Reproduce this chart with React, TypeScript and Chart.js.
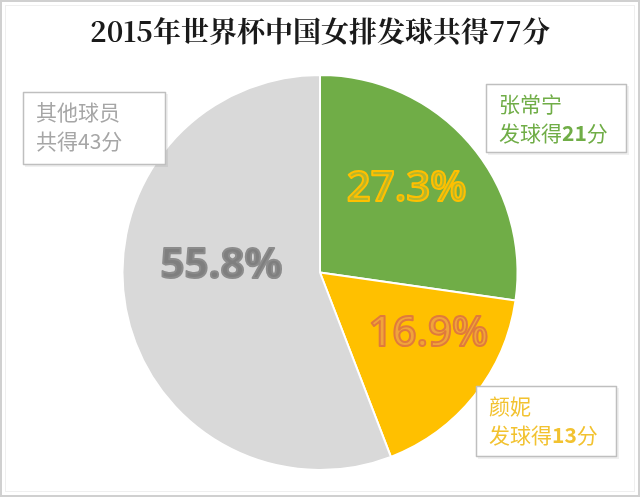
import React, { useEffect, useRef } from "react";
import { Chart, registerables } from "chart.js";

Chart.register(...registerables);

const TITLE = "2015年世界杯中国女排发球共得77分";
const categories = ["张常宁", "颜妮", "其他球员"];
const points = [21, 13, 43];
const percentLabels = ["27.3%", "16.9%", "55.8%"];
const boxLine1 = ["张常宁", "颜妮", "其他球员"];
const boxLine2Prefix = ["发球得", "发球得", "共得"];
const boxLine2Suffix = ["分", "分", "分"];
const sliceColors = ["#70AD47", "#FFC000", "#D9D9D9"];

// label placement (polar, relative to pie centre): angle in degrees, fraction of radius
const pctAngle = [-44, 29.5, 184];
const pctRadius = [0.61, 0.63, 0.5];
const pctFill = ["#B8B62A", "#F0A43A", "#7F7F7F"];
const pctStroke = ["#FFC000", "#E07A3C", "#8C8C8C"];
const pctWeight = ["600", "600", "bold"];
const boxTextColor = ["#70AD47", "#F2C230", "#A6A6A6"];
const boxBold = [true, true, false];
// callout boxes: x, y, w, h
const boxRects = [
  [486, 84, 141, 69],
  [476, 386, 141, 71],
  [23, 92, 143, 73],
];

const CJK = '"Noto Sans CJK SC", "Noto Sans", sans-serif';

const overlayPlugin = {
  id: "overlay",
  beforeDraw(chart: any) {
    const ctx = chart.ctx;
    ctx.save();
    ctx.fillStyle = "#ffffff";
    ctx.fillRect(0, 0, chart.width, chart.height);
    ctx.strokeStyle = "#D0D0D0";
    ctx.lineWidth = 2;
    ctx.strokeRect(1, 1, chart.width - 2, chart.height - 2);
    ctx.strokeStyle = "#EFEFEF";
    ctx.lineWidth = 1;
    ctx.strokeRect(5.5, 5.5, chart.width - 11, chart.height - 11);
    ctx.fillStyle = "#1a1a1a";
    ctx.font = 'bold 28px "Noto Serif CJK SC", "Liberation Serif", "Noto Sans CJK SC", serif';
    ctx.textAlign = "center";
    ctx.textBaseline = "middle";
    ctx.fillText(TITLE, chart.width / 2, 31);
    ctx.restore();
  },
  afterDatasetsDraw(chart: any) {
    const ctx = chart.ctx;
    const meta = chart.getDatasetMeta(0);
    const arc0 = meta.data[0];
    const cx = arc0.x;
    const cy = arc0.y;
    const r = arc0.outerRadius;
    ctx.save();
    for (let i = 0; i < points.length; i++) {
      const a = (pctAngle[i] * Math.PI) / 180;
      const x = cx + Math.cos(a) * r * pctRadius[i];
      const y = cy + Math.sin(a) * r * pctRadius[i];
      ctx.font = `${pctWeight[i]} 42px "Open Sans", Roboto, sans-serif`;
      ctx.textAlign = "center";
      ctx.textBaseline = "middle";
      ctx.lineJoin = "round";
      ctx.lineWidth = 2;
      ctx.strokeStyle = pctStroke[i];
      ctx.fillStyle = pctFill[i];
      ctx.fillText(percentLabels[i], x, y);
      ctx.strokeText(percentLabels[i], x, y);
    }
    for (let i = 0; i < points.length; i++) {
      const [bx, by, bw, bh] = boxRects[i];
      ctx.fillStyle = "rgba(0,0,0,0.06)";
      ctx.fillRect(bx + 2, by + 2, bw, bh);
      ctx.fillStyle = "#ffffff";
      ctx.fillRect(bx, by, bw, bh);
      ctx.strokeStyle = "#BFBFBF";
      ctx.lineWidth = 1.5;
      ctx.strokeRect(bx + 0.5, by + 0.5, bw - 1, bh - 1);
      ctx.fillStyle = boxTextColor[i];
      ctx.textAlign = "left";
      ctx.textBaseline = "middle";
      const tx = bx + 13;
      ctx.font = `21px ${CJK}`;
      ctx.fillText(boxLine1[i], tx, by + 20);
      const y2 = by + 49;
      let x = tx;
      ctx.fillText(boxLine2Prefix[i], x, y2);
      x += ctx.measureText(boxLine2Prefix[i]).width;
      ctx.font = `${boxBold[i] ? "bold " : ""}21px ${CJK}`;
      const num = String(points[i]);
      ctx.fillText(num, x, y2);
      x += ctx.measureText(num).width;
      ctx.font = `21px ${CJK}`;
      ctx.fillText(boxLine2Suffix[i], x, y2);
    }
    ctx.restore();
  },
};

export default function App() {
  const ref = useRef<HTMLCanvasElement>(null);
  useEffect(() => {
    const chart = new Chart(ref.current!, {
      type: "pie",
      data: {
        labels: categories,
        datasets: [
          {
            data: points,
            backgroundColor: sliceColors,
            borderColor: "#ffffff",
            borderWidth: 2,
          },
        ],
      },
      options: {
        animation: false,
        responsive: false,
        devicePixelRatio: 1,
        layout: { padding: { top: 74, bottom: 26, left: 100, right: 100 } },
        plugins: {
          legend: { display: false },
          tooltip: { enabled: false },
          title: { display: false },
        },
      },
      plugins: [overlayPlugin],
    });
    return () => chart.destroy();
  }, []);
  return (
    <div style={{ position: "absolute", left: 0, top: 0, width: 640, height: 497 }}>
      <canvas ref={ref} width={640} height={497} />
    </div>
  );
}
